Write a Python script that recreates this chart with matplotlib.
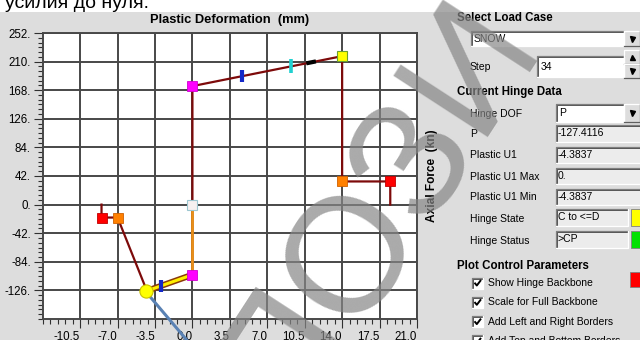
import numpy as np
import matplotlib
matplotlib.use("Agg")
import matplotlib.pyplot as plt
from matplotlib.patches import Rectangle
from matplotlib.ticker import MultipleLocator
import matplotlib.patheffects as pe

# ---------------- data ----------------
x_ticks = [-10.5, -7.0, -3.5, 0.0, 3.5, 7.0, 10.5, 14.0, 17.5, 21.0]
y_ticks = [252, 210, 168, 126, 84, 42, 0, -42, -84, -126]

# hinge backbone (plastic deformation mm, axial force kN)
tens_u = [0.0, 0.0, 14.0, 14.0, 18.5, 18.5]
tens_p = [0.0, 174.0, 218.0, 34.0, 34.0, 0.0]
comp_u = [0.0, 0.0, -4.3, -7.0, -8.5, -8.5]
comp_p = [0.0, -103.0, -125.0, -19.0, -19.0, 0.0]

# hinge history up to the current step
path_u = [0.0, 0.0, -4.3837]
path_p = [0.0, -103.0, -127.4116]
cur_u, cur_p = -4.3837, -127.4116
u_max, u_min = 0.0, -4.3837

# acceptance criteria positions (plastic deformation)
io_tens_u, ls_tens_u, cp_tens_u = 4.65, 9.2, 11.1
io_comp_u = -2.9

# unloading direction line
unload_u = [-4.3837, -0.2]
unload_p = [-127.4116, -205.0]

load_case = "SNOW"
step = 34
hinge_dof = "P"
hinge_state = "C to <=D"
hinge_status = ">CP"
checks = ["Show Hinge Backbone", "Scale for Full Backbone",
          "Add Left and Right Borders", "Add Top and Bottom Borders"]

UI = "Liberation Sans"
PANEL = "#dddddd"
DARK_RED = "#7d0a0a"

fig = plt.figure(figsize=(6.4, 3.4), dpi=100)
fig.patch.set_facecolor("white")

# ---------------- dialog background (pixel coordinates) ----------------
bg = fig.add_axes([0, 0, 1, 1], zorder=-1)
bg.set_xlim(0, 640)
bg.set_ylim(340, 0)
bg.axis("off")
bg.add_patch(Rectangle((0, 12), 640, 328, fc=PANEL, ec="none"))

bg.text(5, 8.5, "усилия до нуля.", fontsize=14, family=UI, va="baseline")
bg.text(230, 20, "Plastic Deformation  (mm)", fontsize=9.3, family=UI,
        weight="bold", ha="center", va="center")
bg.text(432, 176, "Axial Force  (kn)", fontsize=8.6, family=UI, weight="bold",
        rotation=90, ha="center", va="center")


def sunken(x0, y0, x1, y1, fc="white"):
    bg.add_patch(Rectangle((x0, y0), x1 - x0, y1 - y0, fc=fc, ec="none"))
    bg.plot([x0, x0, x1], [y1, y0, y0], color="#7f7f7f", lw=0.9)
    bg.plot([x0 + 1, x0 + 1, x1 - 1], [y1 - 1, y0 + 1, y0 + 1], color="#404040", lw=0.6)
    bg.plot([x0, x1, x1], [y1, y1, y0], color="#ffffff", lw=0.9)


def raised(x0, y0, x1, y1, arrow):
    bg.add_patch(Rectangle((x0, y0), x1 - x0, y1 - y0, fc=PANEL, ec="none"))
    bg.plot([x0, x0, x1], [y1, y0, y0], color="#ffffff", lw=0.9)
    bg.plot([x0, x1, x1], [y1, y1, y0], color="#606060", lw=0.9)
    bg.plot((x0 + x1) / 2, (y0 + y1) / 2, marker=arrow, ms=3.6, color="black",
            mec="black")


def label(x, y, s, bold=False, size=7.5):
    bg.text(x, y, s, fontsize=size, family=UI, va="center",
            weight="bold" if bold else "normal")


label(457, 18, "Select Load Case", bold=True, size=8.3)
sunken(471, 31, 624, 46)
label(474, 38.5, load_case)
raised(624, 31, 640, 46, "v")

label(470, 67, "Step")
sunken(537, 56, 624, 77)
label(541, 66.5, str(step))
raised(624, 50, 640, 64, "^")
raised(624, 64, 640, 78, "v")

label(457, 92, "Current Hinge Data", bold=True, size=8.3)
label(470, 114, "Hinge DOF")
sunken(556, 104, 624, 122)
label(559, 113, hinge_dof)
raised(624, 104, 640, 122, "v")

rows = [("P", f"{cur_p:.4f}", 125, 142),
        ("Plastic U1", f"{cur_u:.4f}", 147, 163),
        ("Plastic U1 Max", f"{u_max:.0f}.", 168, 184),
        ("Plastic U1 Min", f"{u_min:.4f}", 189, 205)]
for name, val, y0, y1 in rows:
    label(470, (y0 + y1) / 2 + 0.5, name)
    sunken(556, y0, 642, y1, fc="#ececec")
    label(558, (y0 + y1) / 2, val)

label(470, 219, "Hinge State")
sunken(556, 209, 628, 226, fc="#ececec")
label(558, 217.5, hinge_state)
bg.add_patch(Rectangle((631, 209), 10, 17, fc="#ffff00", ec="#808080", lw=0.6))

label(470, 241, "Hinge Status")
sunken(556, 231, 628, 248, fc="#ececec")
label(558, 239.5, hinge_status)
bg.add_patch(Rectangle((631, 231), 10, 17, fc="#00e000", ec="#808080", lw=0.6))

label(457, 266, "Plot Control Parameters", bold=True, size=8.3)
bg.add_patch(Rectangle((630, 272), 11, 15, fc="#ff0000", ec="#808080", lw=0.6))
for i, txt in enumerate(checks):
    yc = 283 + i * 19.3
    sunken(472, yc - 5.5, 483, yc + 5.5)
    bg.plot([474.5, 476.8, 481], [yc - 0.3, yc + 2.5, yc - 3], color="black",
            lw=1.4, solid_capstyle="butt")
    label(488, yc, txt)

# ---------------- hinge plot ----------------
ax = fig.add_axes([42.7 / 640, 1 - 319 / 340, (417 - 42.7) / 640, (319 - 33) / 340],
                  zorder=1)
ax.set_facecolor("white")
ax.set_xlim(-14, 21)
ax.set_ylim(-168, 252)
ax.set_xticks(x_ticks)
ax.set_yticks(y_ticks)
ax.set_xticklabels([f"{v:.1f}" for v in x_ticks], family=UI, fontsize=8.3)
ax.set_yticklabels([f"{v:d}." for v in y_ticks], family=UI, fontsize=8.3)
for t in ax.get_xticklabels():
    t.set_ha("right")
ax.xaxis.set_minor_locator(MultipleLocator(0.7))
ax.yaxis.set_minor_locator(MultipleLocator(7))
ax.tick_params(which="major", direction="out", length=6.5, width=0.8,
               color="#303030", pad=2)
ax.tick_params(which="minor", direction="out", length=3.5, width=0.8,
               color="#303030")
ax.grid(True, which="major", color="#484848", lw=1.4)
for s in ax.spines.values():
    s.set_color("#484848")
    s.set_linewidth(1.4)
ax.set_axisbelow(True)

# backbone
ax.plot(tens_u, tens_p, color=DARK_RED, lw=1.6, zorder=3)
ax.plot(comp_u, comp_p, color=DARK_RED, lw=1.6, zorder=3)

# history path
ax.plot(path_u[:2], path_p[:2], color="#e8901a", lw=2.0, zorder=4)
ax.plot(path_u[1:], path_p[1:], color="#ffee00", lw=2.2, zorder=4,
        path_effects=[pe.Stroke(linewidth=4.4, foreground="#8a3a0a"), pe.Normal()])

# unloading direction (drawn past the axes frame)
ax.plot(unload_u, unload_p, color="#5a82b4", lw=2.2, zorder=4, clip_on=False,
        solid_capstyle="butt")

# acceptance markers on the backbone
bb_tu = tens_u[1:3]
bb_tp = tens_p[1:3]
io_p = np.interp(io_tens_u, bb_tu, bb_tp)
ls_p = np.interp(ls_tens_u, bb_tu, bb_tp)
ax.plot(io_tens_u, io_p, marker="|", ms=9, mew=3, color="#1428c8", zorder=6)
ax.plot(ls_tens_u, ls_p, marker="|", ms=9.5, mew=2.6, color="#20d0d0", zorder=6)
cp_seg = np.array([cp_tens_u - 0.45, cp_tens_u + 0.45])
ax.plot(cp_seg, np.interp(cp_seg, bb_tu, bb_tp), color="black", lw=3, zorder=6,
        solid_capstyle="butt")
io_c_p = np.interp(io_comp_u, [path_u[2], path_u[1]], [path_p[2], path_p[1]])
ax.plot(io_comp_u, io_c_p, marker="|", ms=9, mew=3, color="#1428c8", zorder=6)

# backbone points
sq = dict(marker="s", ms=7, ls="none", zorder=7)
ax.plot([tens_u[0]], [tens_p[0]], mfc="#f6f0f0", mec="#9cc6d0", mew=0.8, **sq)
ax.plot([tens_u[1], comp_u[1]], [tens_p[1], comp_p[1]], mfc="#ff00ff", mec="#d000d0", mew=0.6, **sq)
ax.plot([tens_u[2]], [tens_p[2]], mfc="#ffff00", mec="#6aa030", mew=0.8, **sq)
ax.plot([tens_u[3], comp_u[3]], [tens_p[3], comp_p[3]], mfc="#ff8000", mec="#d06000", mew=0.6, **sq)
ax.plot([tens_u[4], comp_u[4]], [tens_p[4], comp_p[4]], mfc="#ff0000", mec="#c00000", mew=0.6, **sq)

# current step
ax.plot(cur_u, cur_p, marker="o", ms=9.5, mfc="#ffff00", mec="#c8c000", mew=0.8,
        zorder=8)

# ---------------- watermark ----------------
fig.text(288 / 640, 1 - 425 / 340, "ПОЗИ", fontsize=118, family=UI,
         color="#868686", alpha=0.7, rotation=57, rotation_mode="anchor",
         ha="left", va="baseline", zorder=20)

fig.savefig("out.png", dpi=100)
